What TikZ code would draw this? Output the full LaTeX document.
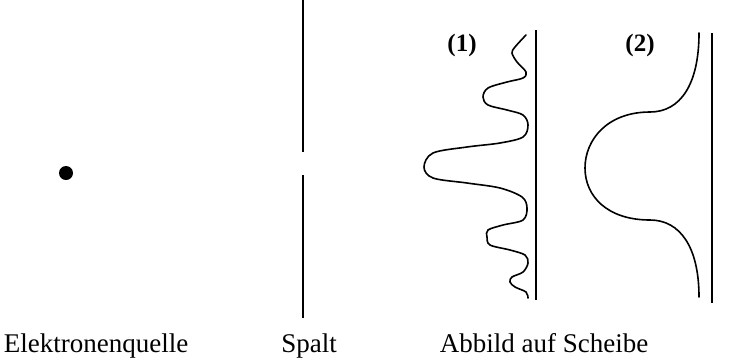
\documentclass[tikz,border=0pt]{standalone}
\usepackage{fontspec}
\setmainfont{Liberation Serif}
\usetikzlibrary{calc,positioning}

\begin{document}
\begin{tikzpicture}[x=1pt,y=-1pt,
    wall/.style={line width=1.8pt},
    wave/.style={line width=1.6pt,line cap=round},
    caption/.style={anchor=base,inner sep=0pt,font=\fontsize{27}{27}\selectfont},
    tag/.style={inner sep=0pt,font=\fontsize{25}{25}\selectfont\bfseries}]
  \useasboundingbox (0,0) rectangle (754,360);
  % source, slit and the two screens
  \coordinate (Q) at (66,173);
  \coordinate (S1) at (303,0);
  \coordinate (S2) at (303,152);
  \coordinate (S3) at (303,175);
  \coordinate (S4) at (303,318);
  \fill (Q) circle (7);
  \draw[wall] (S1)--(S2);
  \draw[wall] (S3)--(S4);
  \draw[wall] (536,30)--(536,300);
  \draw[wall] (712,33)--(712,303);
  % (1): interference pattern
  \draw[wave] plot[smooth,tension=0.55] coordinates {
    (526,35) (515,47) (512,53) (517,62) (526,72) (523,78) (507,82)
    (488,88) (483,97) (488,105) (507,110) (523,115) (528,125)
    (523,137) (500,143) (467,147) (433,153) (424,167) (433,178)
    (467,183) (500,188) (522,197) (527,208) (523,220) (503,225)
    (488,230) (487,237) (490,245) (510,250) (525,255) (528,263)
    (523,272) (512,277) (510,282) (515,287) (526,292) (528,298)};
  % (2): without interference
  \draw[wave] (699,33) .. controls (699,85) and (680,112) .. (650,112)
    .. controls (607,112) and (585,140) .. (585,168)
    .. controls (585,196) and (607,220) .. (650,220)
    .. controls (680,220) and (699,247) .. (699,297);
  \node[tag] (eins) at (462,45) {(1)};
  \node[tag] (zwei) at (640,45) {(2)};
  % captions
  \node[caption] (quelle) at (96,352) {Elektronenquelle};
  \node[caption] (spalt) at (309,352) {Spalt};
  \node[caption] (schirm) at (544,352) {Abbild auf Scheibe};
\end{tikzpicture}
\end{document}
